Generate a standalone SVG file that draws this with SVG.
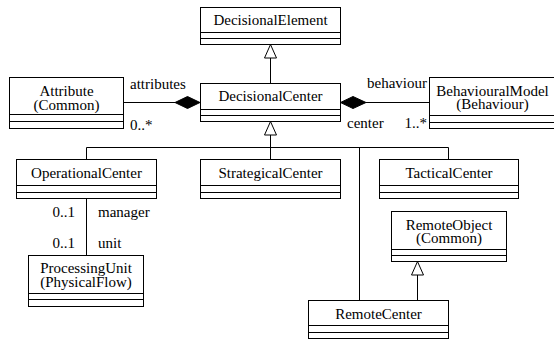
<svg xmlns="http://www.w3.org/2000/svg" width="554" height="340" viewBox="0 0 554 340">
<style>
  .box { fill: #fff; stroke: #000; stroke-width: 1; }
  .sep { stroke: #000; stroke-width: 1; }
  .t { font-family: 'Liberation Serif', Tinos, 'Nimbus Roman', Times, 'DejaVu Serif', serif; font-size: 15px; fill: #000; }
  .c { text-anchor: middle; }
  .e { text-anchor: end; }
  .ln { stroke: #000; stroke-width: 1; fill: none; }
  .tri { fill: #fff; stroke: #000; stroke-width: 1; }
  .dia { fill: #000; stroke: #000; stroke-width: 1; }
</style>
<rect width="554" height="340" fill="#fff"/>

<g id="connectors">
  <line class="ln" x1="270.5" y1="58" x2="270.5" y2="83"/>
  <polygon class="tri" points="270.5,44.5 264.5,58 276.5,58"/>
  <line class="ln" x1="270.5" y1="135" x2="270.5" y2="159"/>
  <polygon class="tri" points="270.5,121.5 264.5,135 276.5,135"/>
  <line class="ln" x1="86.5" y1="147.5" x2="448.5" y2="147.5"/>
  <line class="ln" x1="86.5" y1="147.5" x2="86.5" y2="159"/>
  <line class="ln" x1="448.5" y1="147.5" x2="448.5" y2="159"/>
  <line class="ln" x1="359.5" y1="147.5" x2="359.5" y2="300"/>
  <line class="ln" x1="417.5" y1="275" x2="417.5" y2="300"/>
  <polygon class="tri" points="417.5,261.5 411.5,275 423.5,275"/>
  <line class="ln" x1="123" y1="102.5" x2="175" y2="102.5"/>
  <polygon class="dia" points="175,102.5 187.5,96.5 200,102.5 187.5,108.5"/>
  <line class="ln" x1="366" y1="102.5" x2="429" y2="102.5"/>
  <polygon class="dia" points="340.5,102.5 353,96.5 366,102.5 353,108.5"/>
  <line class="ln" x1="86.5" y1="198" x2="86.5" y2="255"/>
  <text class="t" x="130" y="89">attributes</text>
  <text class="t" x="130" y="130">0..*</text>
  <text class="t e" x="427" y="88">behaviour</text>
  <text class="t" x="347" y="128">center</text>
  <text class="t e" x="427" y="128">1..*</text>
  <text class="t e" x="75" y="217">0..1</text>
  <text class="t" x="98" y="217">manager</text>
  <text class="t e" x="75" y="248">0..1</text>
  <text class="t" x="98" y="248">unit</text>
</g>

<g id="DecisionalElement">
  <rect class="box" x="200.5" y="7.5" width="140" height="37"/>
  <line class="sep" x1="200.5" y1="32.5" x2="340.5" y2="32.5"/>
  <line class="sep" x1="200.5" y1="38.5" x2="340.5" y2="38.5"/>
  <text class="t c" x="270.5" y="25">DecisionalElement</text>
</g>

<g id="DecisionalCenter">
  <rect class="box" x="200.5" y="83.5" width="140" height="38"/>
  <line class="sep" x1="200.5" y1="109.5" x2="340.5" y2="109.5"/>
  <line class="sep" x1="200.5" y1="115.5" x2="340.5" y2="115.5"/>
  <text class="t c" x="270.5" y="101">DecisionalCenter</text>
</g>

<g id="Attribute">
  <rect class="box" x="9.5" y="77.5" width="114" height="51"/>
  <line class="sep" x1="9.5" y1="114.5" x2="123.5" y2="114.5"/>
  <line class="sep" x1="9.5" y1="121.5" x2="123.5" y2="121.5"/>
  <text class="t c" x="66.5" y="96">Attribute<tspan x="66.5" dy="14">(Common)</tspan></text>
</g>

<g id="BehaviouralModel">
  <rect class="box" x="429.5" y="77.5" width="127" height="51"/>
  <line class="sep" x1="429.5" y1="115.5" x2="556.5" y2="115.5"/>
  <line class="sep" x1="429.5" y1="122.5" x2="556.5" y2="122.5"/>
  <text class="t c" x="492.5" y="96">BehaviouralModel<tspan x="492.5" dy="13">(Behaviour)</tspan></text>
</g>

<g id="OperationalCenter">
  <rect class="box" x="16.5" y="159.5" width="140" height="39"/>
  <line class="sep" x1="16.5" y1="185.5" x2="156.5" y2="185.5"/>
  <line class="sep" x1="16.5" y1="192.5" x2="156.5" y2="192.5"/>
  <text class="t c" x="86.5" y="178">OperationalCenter</text>
</g>

<g id="StrategicalCenter">
  <rect class="box" x="200.5" y="159.5" width="140" height="39"/>
  <line class="sep" x1="200.5" y1="185.5" x2="340.5" y2="185.5"/>
  <line class="sep" x1="200.5" y1="192.5" x2="340.5" y2="192.5"/>
  <text class="t c" x="270.5" y="178">StrategicalCenter</text>
</g>

<g id="TacticalCenter">
  <rect class="box" x="379.5" y="159.5" width="139" height="39"/>
  <line class="sep" x1="379.5" y1="185.5" x2="518.5" y2="185.5"/>
  <line class="sep" x1="379.5" y1="192.5" x2="518.5" y2="192.5"/>
  <text class="t c" x="449" y="178">TacticalCenter</text>
</g>

<g id="RemoteObject">
  <rect class="box" x="391.5" y="211.5" width="115" height="50"/>
  <line class="sep" x1="391.5" y1="249.5" x2="506.5" y2="249.5"/>
  <line class="sep" x1="391.5" y1="255.5" x2="506.5" y2="255.5"/>
  <text class="t c" x="449" y="230">RemoteObject<tspan x="449" dy="13">(Common)</tspan></text>
</g>

<g id="ProcessingUnit">
  <rect class="box" x="28.5" y="255.5" width="115" height="51"/>
  <line class="sep" x1="28.5" y1="293.5" x2="143.5" y2="293.5"/>
  <line class="sep" x1="28.5" y1="299.5" x2="143.5" y2="299.5"/>
  <text class="t c" x="86" y="273">ProcessingUnit<tspan x="86" dy="14">(PhysicalFlow)</tspan></text>
</g>

<g id="RemoteCenter">
  <rect class="box" x="308.5" y="300.5" width="140" height="38"/>
  <line class="sep" x1="308.5" y1="325.5" x2="448.5" y2="325.5"/>
  <line class="sep" x1="308.5" y1="332.5" x2="448.5" y2="332.5"/>
  <text class="t c" x="378.5" y="319">RemoteCenter</text>
</g>
</svg>
